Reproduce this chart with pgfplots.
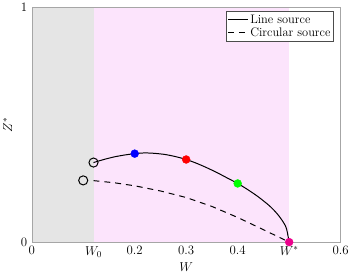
\RequirePackage{fix-cm}
\documentclass[border=0pt]{standalone}
\usepackage{pgfplots}
\pgfplotsset{compat=1.18}
\definecolor{shadegray}{RGB}{229,229,229}
\definecolor{shadepink}{RGB}{252,228,252}
\begin{document}
\begin{tikzpicture}
\begin{axis}[
  scale only axis,
  width=312pt, height=237pt,
  xmin=0, xmax=0.6, ymin=0, ymax=1,
  xtick={0,0.12,0.2,0.3,0.4,0.5,0.6},
  xticklabels={$0$,$W_0$,$0.2$,$0.3$,$0.4$,$W^*$,$0.6$},
  ytick={0,1},
  major tick length=0pt,
  axis line style={draw=black!35},
  xlabel={$W$}, ylabel={$Z^*$},
  xlabel style={yshift=1pt},
  ylabel style={yshift=2pt},
  tick label style={font=\fontsize{13}{15}\selectfont},
  xticklabel style={yshift=-1pt},
  yticklabel style={xshift=-1pt},
  label style={font=\fontsize{13}{15}\selectfont},
  axis on top,
  legend style={at={(0.978,0.983)},anchor=north east,font=\fontsize{12.5}{14}\selectfont,draw=black!70,inner sep=1.2pt,row sep=-1pt},
  legend image post style={line width=1pt},
  legend image code/.code={\draw[#1] (0pt,0pt) -- (0.7cm,0pt);},
  legend cell align=left,
  clip=false,
]
\addplot[fill=shadegray,draw=none,forget plot] coordinates {(0,0) (0.12,0) (0.12,1) (0,1)} -- cycle;
\addplot[fill=shadepink,draw=none,forget plot] coordinates {(0.12,0) (0.5,0) (0.5,1) (0.12,1)} -- cycle;
\addplot[black,line width=1pt,smooth] coordinates {
(0.12,0.339) (0.14,0.352) (0.16,0.363) (0.18,0.371) (0.20,0.377) (0.22,0.380) (0.24,0.378)
(0.26,0.373) (0.28,0.364) (0.30,0.352) (0.32,0.336) (0.34,0.317) (0.36,0.296) (0.38,0.273)
(0.40,0.250) (0.42,0.223) (0.44,0.193) (0.46,0.158) (0.47,0.137) (0.48,0.112) (0.49,0.080)
(0.495,0.056) (0.5,0)};
\addlegendentry{Line source}
\addplot[black,line width=1pt,dash pattern=on 6pt off 5pt] coordinates {
(0.12,0.262) (0.16,0.253) (0.20,0.240) (0.25,0.218) (0.30,0.190) (0.35,0.152) (0.40,0.105)
(0.45,0.053) (0.5,0)};
\addlegendentry{Circular source}
\addplot[black,line width=1pt,forget plot] coordinates {(0.5,0) (0.6,0)};
\addplot[only marks,mark=o,mark size=4.6pt,black,line width=1pt,forget plot] coordinates {(0.12,0.339) (0.10,0.263)};
\addplot[only marks,mark=*,mark size=4pt,color=blue,forget plot] coordinates {(0.2,0.377)};
\addplot[only marks,mark=*,mark size=4pt,color=red,forget plot] coordinates {(0.3,0.352)};
\addplot[only marks,mark=*,mark size=4pt,color=green,forget plot] coordinates {(0.4,0.250)};
\addplot[only marks,mark=*,mark size=4pt,color=magenta,forget plot] coordinates {(0.5,0)};
\end{axis}
\end{tikzpicture}
\end{document}
